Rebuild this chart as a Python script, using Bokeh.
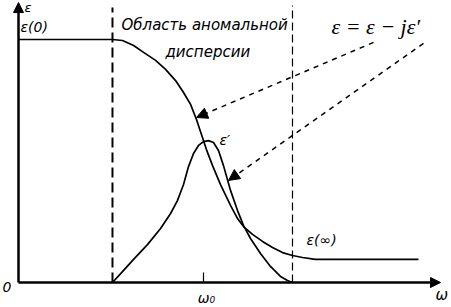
from bokeh.plotting import figure
from bokeh.models import Range1d, Arrow, NormalHead, Label, Span
from bokeh.embed import file_html
from bokeh.resources import INLINE

# Frequency in units of the resonance frequency, permittivity in units of eps(0)
omega_re = [0.000, 0.508, 0.562, 0.622, 0.676, 0.741, 0.795, 0.849, 0.892, 0.930,
            0.962, 0.989, 1.016, 1.049, 1.092, 1.146, 1.184, 1.216, 1.265, 1.319,
            1.373, 1.427, 1.481, 1.535, 1.605, 2.162]
eps_re = [1.000, 1.000, 0.996, 0.975, 0.947, 0.914, 0.877, 0.831, 0.782, 0.733,
          0.671, 0.609, 0.547, 0.481, 0.403, 0.317, 0.263, 0.230, 0.198, 0.169,
          0.144, 0.123, 0.111, 0.103, 0.095, 0.095]

omega_im = [0.508, 0.562, 0.622, 0.697, 0.768, 0.822, 0.859, 0.892, 0.919, 0.946,
            0.973, 1.000, 1.027, 1.054, 1.081, 1.108, 1.146, 1.184, 1.216, 1.254,
            1.308, 1.362, 1.416, 1.454, 1.481]
eps_im = [0.000, 0.045, 0.095, 0.156, 0.222, 0.284, 0.337, 0.403, 0.477, 0.531,
          0.564, 0.580, 0.584, 0.576, 0.543, 0.481, 0.379, 0.296, 0.235, 0.181,
          0.119, 0.066, 0.025, 0.008, 0.000]

band = [0.508, 1.481]      # anomalous dispersion region
omega0 = 1.0

W, H = 451, 307
p = figure(width=W, height=H, output_backend="svg", toolbar_location=None,
           x_range=Range1d(-0.0973, 2.3405), y_range=Range1d(-0.1029, 1.1605),
           min_border=0, outline_line_color=None)
p.axis.visible = False
p.grid.visible = False
p.background_fill_color = "white"
p.border_fill_color = "white"

# axes drawn as arrows
p.add_layout(Arrow(x_start=0, y_start=0, x_end=0, y_end=1.152, line_width=2.5,
                   end=NormalHead(size=10, fill_color="black", line_color="black")))
p.add_layout(Arrow(x_start=0, y_start=0, x_end=2.281, y_end=0, line_width=2.5,
                   end=NormalHead(size=10, fill_color="black", line_color="black")))

# boundaries of the anomalous region
p.segment(x0=[band[0]], y0=[0], x1=[band[0]], y1=[1.132], line_color="black",
          line_width=2, line_dash="10 5")
p.segment(x0=[band[1]], y0=[0], x1=[band[1]], y1=[1.14], line_color="black",
          line_width=1.2, line_dash="8 4")

# tick at resonance
p.segment(x0=[omega0], y0=[0], x1=[omega0], y1=[0.041], line_color="black", line_width=1.2)

p.line(omega_re, eps_re, line_color="black", line_width=1.7)
p.line(omega_im, eps_im, line_color="black", line_width=1.7)

# pointers from the formula to the two curves
for xs, ys, xe, ye in [(1.919, 0.988, 0.962, 0.679), (2.189, 0.984, 1.135, 0.420)]:
    p.add_layout(Arrow(x_start=xs, y_start=ys, x_end=xe, y_end=ye, line_width=1.5,
                       line_dash="5 5",
                       end=NormalHead(size=11, fill_color="black", line_color="black",
                                      line_width=1)))

def label(x, y, text, size=14, font="DejaVu Sans", style="italic", align="left"):
    p.add_layout(Label(x=x, y=H - y, x_units="screen", y_units="screen", text=text,
                       text_font=font, text_font_size=f"{size}px",
                       text_font_style=style, text_baseline="top", text_align=align,
                       text_color="black"))

label(24, -1, "ε", 13)
label(20, 18, "ε(0)", 14)
label(121, 15, "Область аномальной", 15)
label(165, 42, "дисперсии", 15)
label(331, 13, "ε = ε − jε′", 22, font="Liberation Serif")
label(219, 131, "ε′", 14)
label(306, 231, "ε(∞)", 14)
label(2, 281, "0", 14)
label(206, 289, "ω₀", 14, align="center")
label(435, 285, "ω", 15)

open("out.html", "w").write(file_html(p, INLINE))
